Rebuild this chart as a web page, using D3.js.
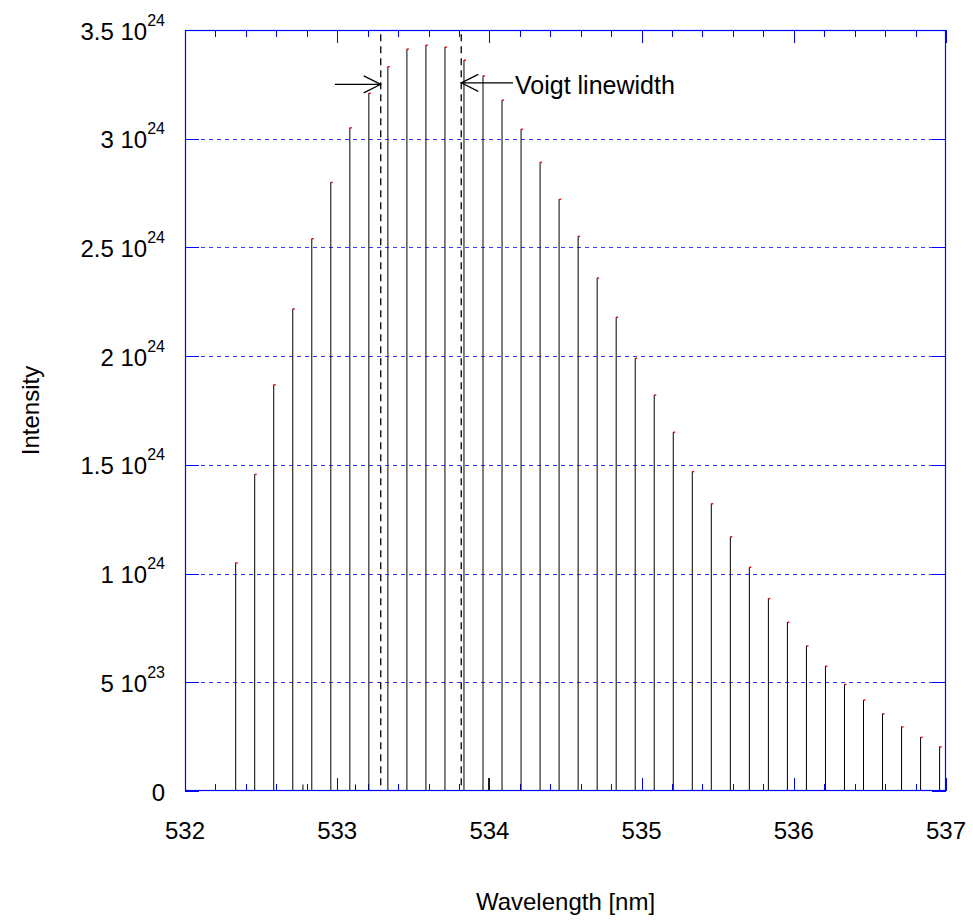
<!DOCTYPE html>
<html>
<head>
<meta charset="utf-8">
<script src="https://cdn.jsdelivr.net/npm/d3@7"></script>
<style>
  html, body { margin: 0; padding: 0; background: #fff; }
  svg { display: block; }
  text { font-family: "Liberation Sans", Arial, Helvetica, sans-serif; fill: #000; }
</style>
</head>
<body>
<svg id="chart" width="973" height="922"></svg>
<script>
// ---- data ----
const wavelengths = [532.333, 532.458, 532.583, 532.708, 532.833, 532.958, 533.083, 533.208,
  533.333, 533.458, 533.583, 533.708, 533.833, 533.958, 534.083, 534.208, 534.333, 534.458,
  534.583, 534.708, 534.833, 534.958, 535.083, 535.208, 535.333, 535.458, 535.583, 535.708,
  535.833, 535.958, 536.083, 536.208, 536.333, 536.458, 536.583, 536.708, 536.833, 536.958];
const intensities = [1.050e24, 1.457e24, 1.869e24, 2.218e24, 2.541e24, 2.800e24, 3.051e24, 3.210e24,
  3.332e24, 3.413e24, 3.431e24, 3.422e24, 3.362e24, 3.290e24, 3.178e24, 3.044e24, 2.892e24, 2.722e24,
  2.552e24, 2.360e24, 2.180e24, 1.991e24, 1.822e24, 1.651e24, 1.470e24, 1.322e24, 1.170e24, 1.030e24,
  0.886e24, 0.777e24, 0.668e24, 0.575e24, 0.491e24, 0.419e24, 0.356e24, 0.296e24, 0.248e24, 0.204e24];
const weakWavelengths = [532.775, 533.120, 533.995];
const weakIntensities = [0.03e24, 0.03e24, 0.06e24];
const voigtBounds = [533.286, 533.815];
const arrowLevel = 3.25e24;
const arrowLeftStart = 532.985;
const arrowRightEnd = 534.155;
const annotationText = "Voigt linewidth";
const xTicks = [532, 533, 534, 535, 536, 537];
const yTicks = [0, 0.5e24, 1e24, 1.5e24, 2e24, 2.5e24, 3e24, 3.5e24];
const yTickMantissa = ["0", "5", "1", "1.5", "2", "2.5", "3", "3.5"];
const yTickExponent = ["", "23", "24", "24", "24", "24", "24", "24"];
const xLabel = "Wavelength [nm]";
const yLabel = "Intensity";

(function () {
// ---- layout ----
const pL = 185, pR = 946, pT = 30, pB = 791;
const svg = d3.select("#chart");
const x = d3.scaleLinear().domain([532, 537]).range([pL, pR]);
const y = d3.scaleLinear().domain([0, 3.5e24]).range([pB, pT]);
const blue = "#0000ff";

// grid lines (dashed)
svg.append("g").selectAll("line")
  .data(yTicks.filter(t => t > 0 && t < 3.5e24))
  .join("line")
  .attr("x1", pL).attr("x2", pR)
  .attr("y1", d => Math.round(y(d)) + 0.5).attr("y2", d => Math.round(y(d)) + 0.5)
  .attr("stroke", "#3a3aff").attr("stroke-width", 1)
  .attr("stroke-dasharray", "4,4");

// x ticks: minor every 0.2, major at integers (bottom + top)
const xMinor = d3.range(0, 26).map(i => 532 + i * 0.2);
const tickG = svg.append("g").attr("stroke", blue).attr("stroke-width", 1);
xMinor.forEach(v => {
  const isMajor = Math.abs(v - Math.round(v)) < 1e-6;
  const len = isMajor ? 13 : 7;
  const xx = Math.round(x(v)) + 0.5;
  tickG.append("line").attr("x1", xx).attr("x2", xx).attr("y1", pB).attr("y2", pB - len);
  tickG.append("line").attr("x1", xx).attr("x2", xx).attr("y1", pT).attr("y2", pT + len);
});
// y ticks left/right
yTicks.forEach(v => {
  const yy = Math.round(y(v)) + 0.5;
  tickG.append("line").attr("x1", pL).attr("x2", pL + 14).attr("y1", yy).attr("y2", yy);
  tickG.append("line").attr("x1", pR).attr("x2", pR - 14).attr("y1", yy).attr("y2", yy);
});

// stems
const stems = svg.append("g");
stems.selectAll("line.stem")
  .data(wavelengths.map((w, i) => [w, intensities[i]]))
  .join("line").attr("class", "stem")
  .attr("x1", d => x(d[0])).attr("x2", d => x(d[0]))
  .attr("y1", y(0)).attr("y2", d => y(d[1]))
  .attr("stroke", "#000").attr("stroke-width", 1);
stems.selectAll("line.weak")
  .data(weakWavelengths.map((w, i) => [w, weakIntensities[i]]))
  .join("line").attr("class", "weak")
  .attr("x1", d => x(d[0])).attr("x2", d => x(d[0]))
  .attr("y1", y(0)).attr("y2", d => y(d[1]))
  .attr("stroke", "#000").attr("stroke-width", 1);
// red markers at tops
stems.selectAll("rect.dot")
  .data(wavelengths.map((w, i) => [w, intensities[i]]))
  .join("rect").attr("class", "dot")
  .attr("x", d => x(d[0]))
  .attr("y", d => y(d[1]) - 0.5)
  .attr("width", 2).attr("height", 1.4)
  .attr("fill", "#ff0000");

// frame
svg.append("rect")
  .attr("x", pL + 0.5).attr("y", pT + 0.5)
  .attr("width", pR - pL - 1).attr("height", pB - pT - 1)
  .attr("fill", "none").attr("stroke", blue).attr("stroke-width", 1.2);

// Voigt dashed lines
svg.append("g").selectAll("line")
  .data(voigtBounds)
  .join("line")
  .attr("x1", d => x(d)).attr("x2", d => x(d))
  .attr("y1", y(3.48e24)).attr("y2", y(0))
  .attr("stroke", "#000").attr("stroke-width", 1.3)
  .attr("stroke-dasharray", "7,5");

// arrows
const ay = y(arrowLevel);
const arrowG = svg.append("g").attr("stroke", "#000").attr("stroke-width", 1.2).attr("fill", "none");
const xl = x(voigtBounds[0]), xr = x(voigtBounds[1]);
arrowG.append("line").attr("x1", x(arrowLeftStart)).attr("x2", xl).attr("y1", ay).attr("y2", ay);
arrowG.append("path").attr("d", `M${xl - 17},${ay - 8.5} L${xl},${ay} L${xl - 17},${ay + 8.5}`);
arrowG.append("line").attr("x1", xr).attr("x2", x(arrowRightEnd)).attr("y1", ay - 1.5).attr("y2", ay - 1.5);
arrowG.append("path").attr("d", `M${xr + 17},${ay - 10} L${xr},${ay - 1.5} L${xr + 17},${ay + 7}`);
svg.append("text")
  .attr("x", x(arrowRightEnd) + 2).attr("y", ay + 10)
  .attr("font-size", 25)
  .text(annotationText);

// x tick labels
svg.append("g").selectAll("text")
  .data(xTicks)
  .join("text")
  .attr("x", d => x(d)).attr("y", 839)
  .attr("text-anchor", "middle").attr("font-size", 24)
  .text(d => d);

// y tick labels
const yl = svg.append("g");
yTicks.forEach((v, i) => {
  const t = yl.append("text")
    .attr("x", 165).attr("y", y(v) + 9.5)
    .attr("text-anchor", "end").attr("font-size", 24);
  if (yTickExponent[i]) {
    t.append("tspan").text(yTickMantissa[i] + " 10");
    t.append("tspan").attr("font-size", 16).attr("dy", -14).text(yTickExponent[i]);
  } else {
    t.text(yTickMantissa[i]);
  }
});

// axis labels
svg.append("text")
  .attr("x", (pL + pR) / 2).attr("y", 910)
  .attr("text-anchor", "middle").attr("font-size", 24)
  .text(xLabel);
svg.append("text")
  .attr("transform", `translate(39,${(pT + pB) / 2}) rotate(-90)`)
  .attr("text-anchor", "middle").attr("font-size", 24)
  .text(yLabel);
})();
</script>
</body>
</html>
